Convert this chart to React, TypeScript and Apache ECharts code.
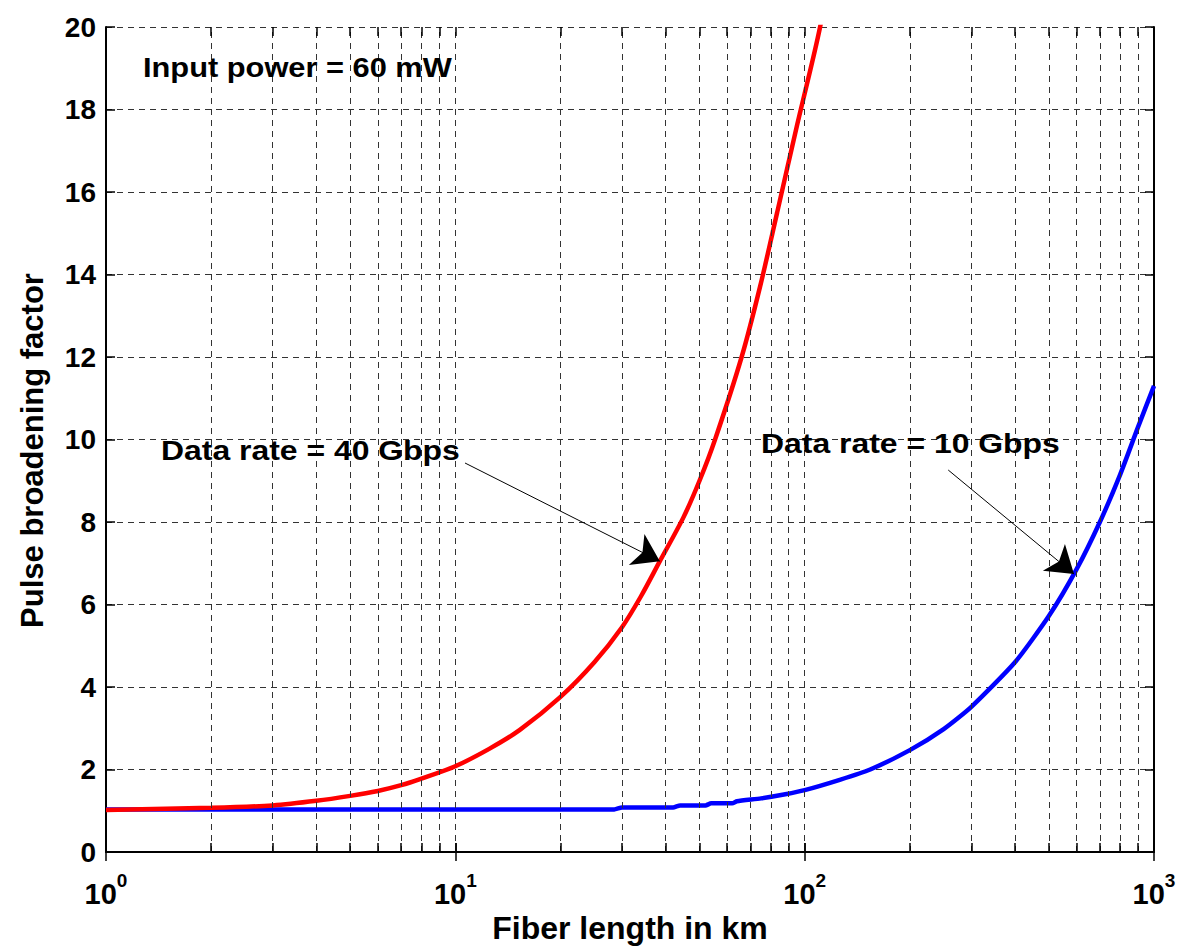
import React, { useEffect, useRef } from "react";
import * as echarts from "echarts";

// Fiber length (km) and pulse broadening factor, 40 Gbps
const redLength = [1, 2, 3, 4, 5, 6, 7, 8, 10, 12.5, 15.3, 20, 25, 30, 34, 38.5, 44.9, 50, 55.4, 66, 74.5, 83.4, 95, 110.7, 125];
const redFactor = [1.02, 1.07, 1.13, 1.24, 1.36, 1.48, 1.62, 1.78, 2.08, 2.5, 2.96, 3.76, 4.6, 5.45, 6.2, 7.05, 8.1, 9.0, 10.0, 12.0, 13.7, 15.5, 17.6, 20.0, 22.5];

// Fiber length (km) and pulse broadening factor, 10 Gbps
const blueLength = [1, 10, 28.5, 30, 42, 44, 52, 54, 62, 64, 75, 88, 100, 126, 154, 200, 250, 300, 400, 500, 600, 700, 800, 900, 1000];
const blueFactor = [1.03, 1.03, 1.03, 1.08, 1.08, 1.13, 1.13, 1.18, 1.18, 1.23, 1.3, 1.4, 1.5, 1.75, 2.0, 2.47, 2.98, 3.52, 4.6, 5.72, 6.85, 8.0, 9.15, 10.3, 11.3];

const xMin = 1;
const xMax = 1000;
const yMin = 0;
const yMax = 20;
const yStep = 2;

// Log-axis gridline positions: 2..9 within each decade, plus 10 and 100
const xGridValues: number[] = [];
for (const decade of [1, 10, 100]) {
  for (let m = 2; m <= 10; m++) xGridValues.push(m * decade);
}
xGridValues.pop(); // 1000 is the frame edge

const annotationTexts = ["Input power = 60 mW", "Data rate = 40 Gbps", "Data rate = 10 Gbps"];
// Arrow tails (near the labels) and heads (on the curves)
const redArrow = { from: [10.66, 9.43], to: [38.5, 7.05] };
const blueArrow = { from: [257.6, 9.26], to: [590, 6.74] };

const FONT = "'Liberation Sans', Arial, Helvetica, sans-serif";

function zip(xs: number[], ys: number[]) {
  return xs.map((x, i) => [x, ys[i]]);
}

export default function App() {
  const ref = useRef<HTMLDivElement>(null);

  useEffect(() => {
    document.body.style.margin = "0";
    if (!ref.current) return;
    const chart = echarts.init(ref.current, undefined, { renderer: "svg" });

    const gridDash = { color: "#333", width: 1, type: [6, 5] as any };
    const frame = { color: "#000", width: 2 };
    const tick = { show: true, inside: true, length: 9, lineStyle: { color: "#000", width: 1.5 } };
    const annotStyle = { fontSize: 28, fontWeight: "bold", fontFamily: FONT, fill: "#000" };

    const option: any = {
      animation: false,
      backgroundColor: "#fff",
      grid: { left: 106, top: 27, right: 24, bottom: 98, containLabel: false, outerBoundsMode: "none" },
      xAxis: [
        {
          type: "log",
          logBase: 10,
          min: xMin,
          max: xMax,
          splitNumber: 3,
          position: "bottom",
          axisLine: { show: true, lineStyle: frame },
          axisTick: tick,
          splitLine: { show: false },
          axisLabel: {
            margin: 27,
            formatter: (v: number) => `{b|10}{s|${Math.round(Math.log10(v))}}`,
            rich: {
              b: { fontSize: 29, fontWeight: "bold", fontFamily: FONT, color: "#000", lineHeight: 30 },
              s: { fontSize: 19, fontWeight: "bold", fontFamily: FONT, color: "#000", lineHeight: 19, padding: [0, 0, 28, 0] },
            },
          },
          name: "Fiber length in km",
          nameLocation: "middle",
          nameGap: 60,
          nameMoveOverlap: false,
          nameTextStyle: { fontSize: 32, fontWeight: "bold", fontFamily: FONT, color: "#000" },
        },
        {
          type: "log",
          logBase: 10,
          min: xMin,
          max: xMax,
          splitNumber: 3,
          position: "top",
          axisLine: { show: true, lineStyle: frame },
          axisTick: tick,
          splitLine: { show: false },
          axisLabel: { show: false },
        },
      ],
      yAxis: [
        {
          type: "value",
          min: yMin,
          max: yMax,
          interval: yStep,
          position: "left",
          axisLine: { show: true, lineStyle: frame },
          axisTick: tick,
          splitLine: { show: true, lineStyle: gridDash },
          axisLabel: { margin: 10, fontSize: 28, fontWeight: "bold", fontFamily: FONT, color: "#000" },
          name: "Pulse broadening factor",
          nameLocation: "middle",
          nameGap: 58,
          nameMoveOverlap: false,
          nameTextStyle: { fontSize: 31, fontWeight: "bold", fontFamily: FONT, color: "#000", padding: [0, 22, 0, 0] },
        },
        {
          type: "value",
          min: yMin,
          max: yMax,
          interval: yStep,
          position: "right",
          axisLine: { show: true, lineStyle: frame },
          axisTick: tick,
          splitLine: { show: false },
          axisLabel: { show: false },
        },
      ],
      series: [
        {
          // vertical dashed gridlines and minor ticks on the log axis
          type: "line",
          name: "grid",
          z: 1,
          data: [[xMin, yMin]],
          showSymbol: false,
          lineStyle: { opacity: 0 },
          silent: true,
          markLine: {
            silent: true,
            symbol: ["none", "none"],
            label: { show: false },
            animation: false,
            data: [
              ...xGridValues.map((v) => ({ xAxis: v, lineStyle: gridDash })),
              ...xGridValues.map((v) => [
                { coord: [v, yMin], lineStyle: { color: "#000", width: 1.5, type: "solid" } },
                { coord: [v, yMin + 0.22] },
              ]),
              ...xGridValues.map((v) => [
                { coord: [v, yMax], lineStyle: { color: "#000", width: 1.5, type: "solid" } },
                { coord: [v, yMax - 0.22] },
              ]),
            ],
          },
        },
        {
          type: "line",
          name: "Data rate = 10 Gbps",
          z: 3,
          data: zip(blueLength, blueFactor),
          showSymbol: false,
          smooth: 0.2,
          clip: true,
          lineStyle: { color: "#0000ff", width: 4.5 },
          itemStyle: { color: "#0000ff" },
        },
        {
          type: "line",
          name: "Data rate = 40 Gbps",
          z: 4,
          data: zip(redLength, redFactor),
          showSymbol: false,
          smooth: 0.3,
          clip: true,
          lineStyle: { color: "#ff0000", width: 4.5 },
          itemStyle: { color: "#ff0000" },
        },
        {
          // annotation arrows
          type: "line",
          name: "arrows",
          z: 5,
          data: [[xMin, yMin]],
          showSymbol: false,
          lineStyle: { opacity: 0 },
          silent: true,
          markLine: {
            silent: true,
            symbol: ["none", "arrow"],
            symbolSize: 26,
            label: { show: false },
            animation: false,
            itemStyle: { color: "#000" },
            lineStyle: { color: "#000", width: 1, type: "solid" },
            emphasis: { disabled: true },
            data: [
              [{ coord: redArrow.from }, { coord: redArrow.to }],
              [{ coord: blueArrow.from }, { coord: blueArrow.to }],
            ],
          },
        },
      ],
      graphic: [
        { type: "text", x: 143, y: 53, scaleX: 1.1, z: 10, style: { text: annotationTexts[0], ...annotStyle } },
        { type: "text", x: 161, y: 436, scaleX: 1.14, z: 10, style: { text: annotationTexts[1], ...annotStyle } },
        { type: "text", x: 761, y: 429, scaleX: 1.14, z: 10, style: { text: annotationTexts[2], ...annotStyle } },
      ],
    };

    chart.setOption(option);
    return () => chart.dispose();
  }, []);

  return <div ref={ref} style={{ width: 1178, height: 950 }} />;
}
